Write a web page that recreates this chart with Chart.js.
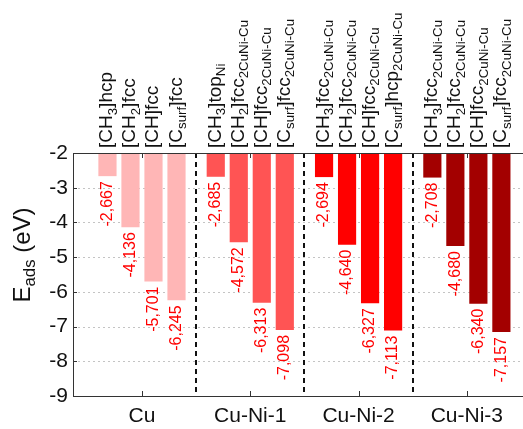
<!DOCTYPE html>
<html>
<head>
<meta charset="utf-8">
<script src="https://cdn.jsdelivr.net/npm/chart.js@4/dist/chart.umd.min.js"></script>
<style>
  html, body { margin: 0; padding: 0; background: #fff; overflow: hidden; }
  #wrap { width: 523px; height: 429px; overflow: hidden; }
</style>
</head>
<body>
<div id="wrap"><canvas id="chart" width="560" height="429"></canvas></div>
<script>
// groups along x
const groups = ['Cu', 'Cu-Ni-1', 'Cu-Ni-2', 'Cu-Ni-3'];
const groupColors = ['#ffb6b6', '#ff5454', '#ff0000', '#a30000'];

// adsorption energies (eV): CH3, CH2, CH, C_surf
const cuVals = [-2.667, -4.136, -5.701, -6.245];
const cuNi1Vals = [-2.685, -4.572, -6.313, -7.098];
const cuNi2Vals = [-2.694, -4.640, -6.327, -7.113];
const cuNi3Vals = [-2.708, -4.680, -6.340, -7.157];

// site labels above each bar, _{..} = subscript
const cuSites = ['[CH_{3}]hcp', '[CH_{2}]fcc', '[CH]fcc', '[C_{surf}]fcc'];
const cuNi1Sites = ['[CH_{3}]top_{Ni}', '[CH_{2}]fcc_{2CuNi-Cu}', '[CH]fcc_{2CuNi-Cu}', '[C_{surf}]fcc_{2CuNi-Cu}'];
const cuNi2Sites = ['[CH_{3}]fcc_{2CuNi-Cu}', '[CH_{2}]fcc_{2CuNi-Cu}', '[CH]fcc_{2CuNi-Cu}', '[C_{surf}]hcp_{2CuNi-Cu}'];
const cuNi3Sites = ['[CH_{3}]fcc_{2CuNi-Cu}', '[CH_{2}]fcc_{2CuNi-Cu}', '[CH]fcc_{2CuNi-Cu}', '[C_{surf}]fcc_{2CuNi-Cu}'];

const yTicks = [-2, -3, -4, -5, -6, -7, -8, -9];

const allVals = [cuVals, cuNi1Vals, cuNi2Vals, cuNi3Vals];
const allSites = [cuSites, cuNi1Sites, cuNi2Sites, cuNi3Sites];

const FONT = '"Liberation Sans", Arial, sans-serif';
const X_MIN = -0.637;
const X_MAX = 3.86;

function parseRich(s) {
  const parts = [];
  const re = /_\{([^}]*)\}/g;
  let last = 0, m;
  while ((m = re.exec(s))) {
    if (m.index > last) parts.push({ t: s.slice(last, m.index), sub: false });
    parts.push({ t: m[1], sub: true });
    last = re.lastIndex;
  }
  if (last < s.length) parts.push({ t: s.slice(last), sub: false });
  return parts;
}

function richWidth(ctx, s, size) {
  let w = 0;
  for (const p of parseRich(s)) {
    ctx.font = (p.sub ? size * 0.7 : size) + 'px ' + FONT;
    w += ctx.measureText(p.t).width;
  }
  return w;
}

function drawRich(ctx, s, x, y, size) {
  for (const p of parseRich(s)) {
    const fs = p.sub ? size * 0.7 : size;
    ctx.font = fs + 'px ' + FONT;
    ctx.fillText(p.t, x, p.sub ? y + size * 0.22 : y);
    x += ctx.measureText(p.t).width;
  }
}

const decor = {
  id: 'decor',
  beforeDatasetsDraw(chart) {
    const { ctx, chartArea: a, scales: { y } } = chart;
    ctx.save();
    ctx.strokeStyle = '#c4c4c4';
    ctx.lineWidth = 1;
    ctx.setLineDash([2, 3]);
    yTicks.slice(1, -1).forEach(v => {
      const py = Math.round(y.getPixelForValue(v)) + 0.5;
      ctx.beginPath();
      ctx.moveTo(a.left, py);
      ctx.lineTo(a.right, py);
      ctx.stroke();
    });
    ctx.restore();
  },
  afterDatasetsDraw(chart) {
    const { ctx, chartArea: a, scales: { x, y } } = chart;
    ctx.save();

    // group separators
    ctx.strokeStyle = '#111';
    ctx.lineWidth = 2;
    ctx.setLineDash([5, 4]);
    for (let i = 0; i < groups.length - 1; i++) {
      const px = Math.round(x.getPixelForValue(i + 0.5));
      ctx.beginPath();
      ctx.moveTo(px, a.top);
      ctx.lineTo(px, a.bottom);
      ctx.stroke();
    }
    ctx.setLineDash([]);

    // frame and ticks
    ctx.strokeStyle = '#333';
    ctx.lineWidth = 1;
    ctx.strokeRect(a.left + 0.5, a.top + 0.5, a.right - a.left, a.bottom - a.top);
    ctx.beginPath();
    groups.forEach((g, i) => {
      const px = Math.round(x.getPixelForValue(i)) + 0.5;
      ctx.moveTo(px, a.bottom); ctx.lineTo(px, a.bottom - 5);
      ctx.moveTo(px, a.top); ctx.lineTo(px, a.top + 5);
    });
    yTicks.forEach(v => {
      const py = Math.round(y.getPixelForValue(v)) + 0.5;
      ctx.moveTo(a.left, py); ctx.lineTo(a.left + 4, py);
    });
    ctx.stroke();

    // value labels and site labels
    chart.data.datasets.forEach((ds, si) => {
      const meta = chart.getDatasetMeta(si);
      meta.data.forEach((el, gi) => {
        const v = ds.data[gi].y;
        ctx.save();
        ctx.translate(el.x, el.y + 5);
        ctx.rotate(-Math.PI / 2);
        ctx.fillStyle = '#ff0000';
        ctx.font = '16px ' + FONT;
        ctx.textAlign = 'right';
        ctx.textBaseline = 'middle';
        ctx.fillText(v.toFixed(3).replace('.', ','), 0, 0);
        ctx.restore();

        ctx.save();
        ctx.translate(el.x + 5, a.top - 5);
        ctx.rotate(-Math.PI / 2);
        ctx.fillStyle = '#111';
        ctx.textAlign = 'left';
        ctx.textBaseline = 'alphabetic';
        drawRich(ctx, allSites[gi][si], 0, 0, 19);
        ctx.restore();
      });
    });

    // y axis title
    const title = 'E_{ads} (eV)';
    const ts = 24;
    const tw = richWidth(ctx, title, ts);
    ctx.save();
    ctx.translate(30, 255);
    ctx.rotate(-Math.PI / 2);
    ctx.fillStyle = '#111';
    ctx.textAlign = 'left';
    ctx.textBaseline = 'alphabetic';
    drawRich(ctx, title, -tw / 2, 0, ts);
    ctx.restore();

    ctx.restore();
  }
};

const datasets = [0, 1, 2, 3].map(si => ({
  label: 'site ' + si,
  data: groups.map((g, gi) => ({ x: gi, y: allVals[gi][si] })),
  backgroundColor: groupColors,
  borderWidth: 0,
  base: -2,
  categoryPercentage: 0.85,
  barPercentage: 0.79
}));

new Chart(document.getElementById('chart'), {
  type: 'bar',
  data: { datasets },
  options: {
    responsive: false,
    animation: false,
    layout: { padding: { top: 153, left: 0, right: 0, bottom: 0 } },
    plugins: {
      legend: { display: false },
      tooltip: { enabled: false }
    },
    scales: {
      x: {
        type: 'linear',
        offset: false,
        bounds: 'data',
        min: X_MIN,
        max: X_MAX,
        grid: { display: false, drawTicks: false, offset: false },
        border: { display: false },
        afterBuildTicks: axis => {
          axis.ticks = groups.map((g, i) => ({ value: i }));
          axis.min = X_MIN;
          axis.max = X_MAX;
        },
        afterFit: axis => { axis.height = 33; },
        ticks: {
          autoSkip: false,
          maxRotation: 0,
          padding: 8,
          color: '#111',
          font: { size: 21, family: FONT },
          callback: v => groups[Math.round(v)]
        }
      },
      y: {
        min: -9,
        max: -2,
        grid: { display: false, drawTicks: false },
        border: { display: false },
        afterFit: axis => { axis.width = 73; },
        ticks: {
          stepSize: 1,
          padding: 5,
          color: '#111',
          font: { size: 21, family: FONT },
          callback: v => String(v)
        }
      }
    }
  },
  plugins: [decor]
});
</script>
</body>
</html>
